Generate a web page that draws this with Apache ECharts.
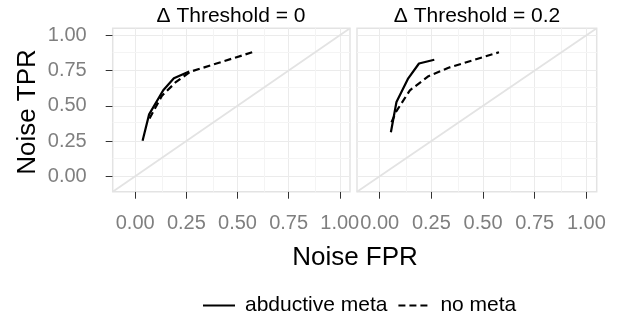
<!DOCTYPE html>
<html>
<head>
<meta charset="utf-8">
<script src="https://cdn.jsdelivr.net/npm/echarts@6/dist/echarts.min.js"></script>
<style>
html, body { margin: 0; padding: 0; background: #fff; }
#chart { width: 625px; height: 323px; }
</style>
</head>
<body>
<div id="chart"></div>
<script>
// facet titles and series names
const panelTitles = ['Δ Threshold = 0', 'Δ Threshold = 0.2']
const seriesNames = ['abductive meta', 'no meta']

// [FPR, TPR] points
const abductive0 = [[0.036, 0.252], [0.068, 0.439], [0.137, 0.61], [0.189, 0.695], [0.264, 0.743]]
const noMeta0 = [[0.07, 0.41], [0.13, 0.57], [0.2, 0.67], [0.27, 0.742], [0.573, 0.88]]
const abductive02 = [[0.054, 0.312], [0.081, 0.527], [0.138, 0.695], [0.19, 0.8], [0.264, 0.827]]
const noMeta02 = [[0.057, 0.383], [0.08, 0.46], [0.146, 0.61], [0.236, 0.71], [0.333, 0.77], [0.577, 0.88]]

// axis ticks
const majorTicks = [0, 0.25, 0.5, 0.75, 1]
const minorTicks = [0.125, 0.375, 0.625, 0.875]
const axisMin = -0.11
const axisMax = 1.05

const panelData = [[abductive0, noMeta0], [abductive02, noMeta02]]
const font = 'Liberation Sans'

const grids = [
    { left: 112.7, top: 28.3, width: 237.3, height: 163.4 },
    { left: 357, top: 28.3, width: 239.7, height: 163.4 },
].map(g => ({ ...g, show: true, borderColor: '#e3e3e3', borderWidth: 1.5, backgroundColor: 'transparent' }))

const makeAxis = (i, isY) => ({
    type: 'value',
    gridIndex: i,
    min: axisMin,
    max: axisMax,
    axisLine: { show: false, onZero: false },
    axisTick: {
        show: !isY || i === 0,
        length: 7,
        customValues: majorTicks,
        lineStyle: { color: '#333', width: 1 },
    },
    axisLabel: {
        show: !isY || i === 0,
        customValues: majorTicks,
        formatter: v => v.toFixed(2),
        color: '#7f7f7f',
        fontSize: 20,
        fontFamily: font,
        margin: isY ? 26 : 22,
    },
    splitLine: { show: false },
})

const gridLines = []
majorTicks.forEach(v => {
    gridLines.push({ xAxis: v, lineStyle: { color: '#ebebeb', width: 1, type: 'solid' } })
    gridLines.push({ yAxis: v, lineStyle: { color: '#ebebeb', width: 1, type: 'solid' } })
})
minorTicks.forEach(v => {
    gridLines.push({ xAxis: v, lineStyle: { color: '#f4f4f4', width: 1, type: 'solid' } })
    gridLines.push({ yAxis: v, lineStyle: { color: '#f4f4f4', width: 1, type: 'solid' } })
})

const series = []
panelData.forEach((pair, i) => {
    // background grid + diagonal reference line
    series.push({
        type: 'line',
        xAxisIndex: i,
        yAxisIndex: i,
        data: [[axisMin, axisMin], [axisMax, axisMax]],
        symbol: 'none',
        silent: true,
        lineStyle: { color: '#e3e3e3', width: 1.8 },
        markLine: {
            z: 1,
            symbol: 'none',
            silent: true,
            label: { show: false },
            emphasis: { disabled: true },
            lineStyle: { type: 'solid' },
            animation: false,
            data: gridLines,
        },
    })
    pair.forEach((d, k) => {
        series.push({
            name: seriesNames[k],
            type: 'line',
            xAxisIndex: i,
            yAxisIndex: i,
            data: d,
            symbol: 'none',
            lineStyle: { color: '#000', width: 2.2, type: k === 0 ? 'solid' : [7, 4] },
            itemStyle: { color: '#000' },
        })
    })
})

const textEl = (text, x, y, size, rotation) => ({
    type: 'text',
    x,
    y,
    rotation: rotation || 0,
    style: { text, fontSize: size, fontFamily: font, fill: '#000', align: 'center', verticalAlign: 'middle' },
})

const myChart = echarts.init(document.getElementById('chart'))
myChart.setOption({
    animation: false,
    grid: grids,
    xAxis: [makeAxis(0, false), makeAxis(1, false)],
    yAxis: [makeAxis(0, true), makeAxis(1, true)],
    legend: {
        data: seriesNames,
        left: 197,
        top: 290,
        itemWidth: 32,
        itemHeight: 14,
        itemGap: 10,
        itemStyle: { opacity: 0 },
        textStyle: { fontSize: 21, fontFamily: font, color: '#000', padding: [0, 0, 0, 5] },
    },
    graphic: [
        textEl(panelTitles[0], 231, 16, 21),
        textEl(panelTitles[1], 477, 16, 21),
        textEl('Noise FPR', 355, 258, 26),
        textEl('Noise TPR', 28, 112, 26, Math.PI / 2),
    ],
    series,
})
</script>
</body>
</html>
